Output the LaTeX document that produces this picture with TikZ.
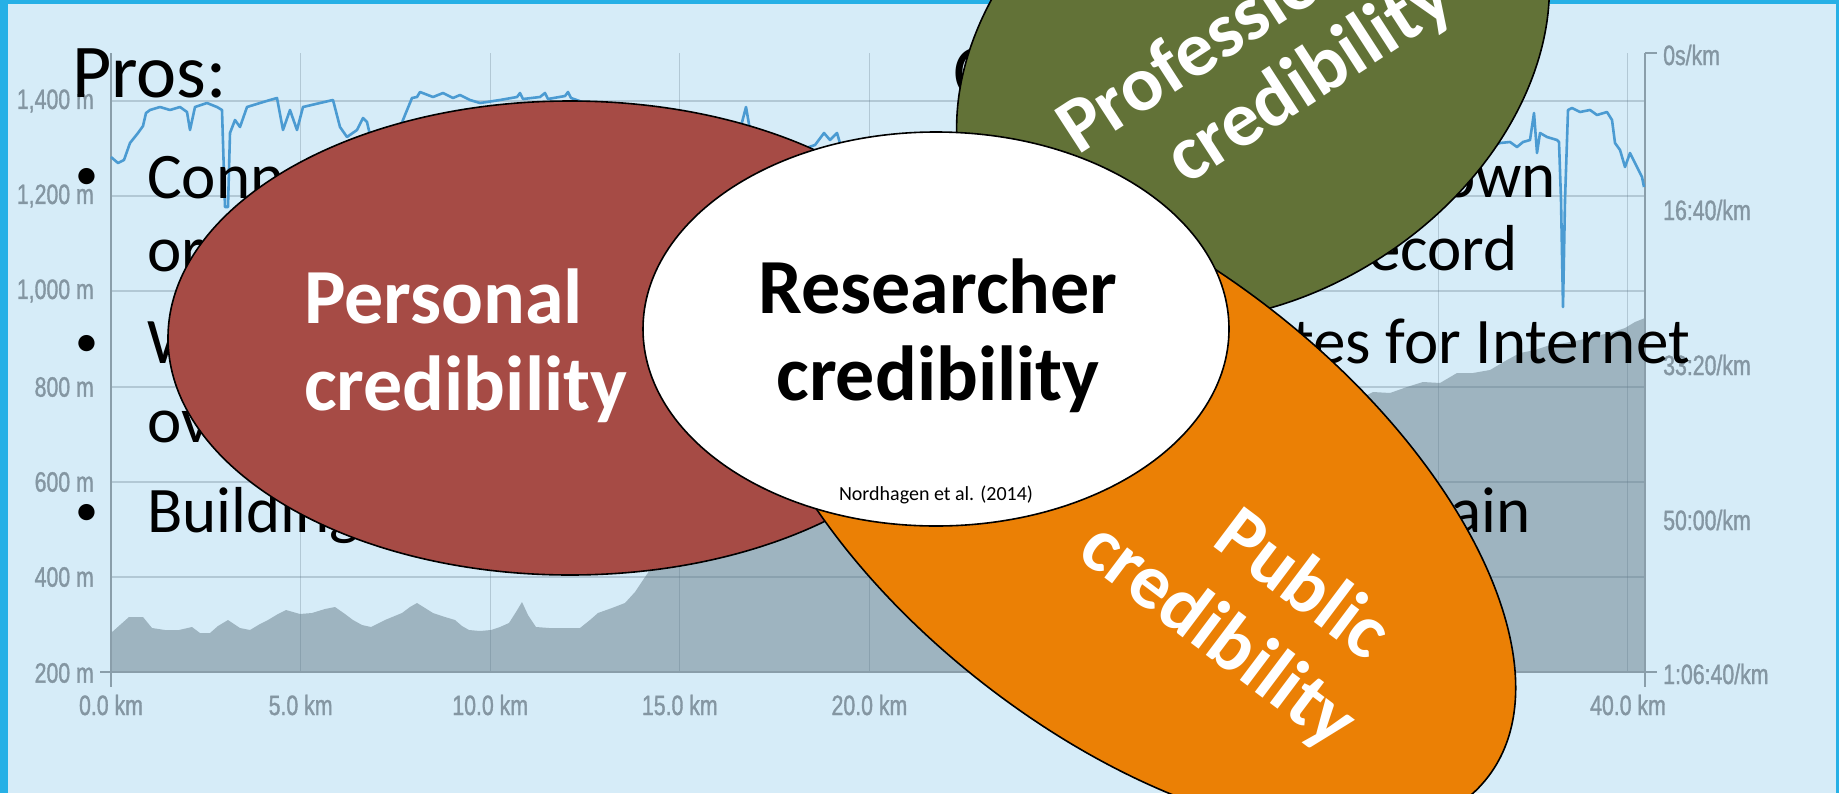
\documentclass[tikz,border=0pt]{standalone}
\usepackage{fontspec}
\setmainfont{Carlito}
\newfontfamily\axisfont[FakeStretch=0.76,FakeBold=1.2]{Liberation Sans}
\definecolor{frameblue}{RGB}{38,176,230}
\definecolor{slidebg}{RGB}{214,236,248}
\definecolor{areafill}{RGB}{158,180,192}
\definecolor{gridc}{RGB}{95,120,135}
\definecolor{axisc}{RGB}{138,158,170}
\definecolor{axistext}{RGB}{132,150,162}
\definecolor{pacec}{RGB}{75,155,210}
\definecolor{redfill}{RGB}{166,75,69}
\definecolor{greenfill}{RGB}{98,114,55}
\definecolor{orangefill}{RGB}{235,128,5}
\begin{document}
\begin{tikzpicture}[x=1pt,y=-1pt,
  gridline/.style={draw=gridc, draw opacity=0.3, line width=1.3pt},
  axisline/.style={draw=axisc, line width=1.6pt},
  axlabel/.style={font=\axisfont\fontsize{28}{28}\selectfont, text=axistext, inner sep=0pt},
  bodytext/.style={font=\fontsize{65}{65}\selectfont, text=black, inner sep=0pt},
  bullettext/.style={font=\fontsize{46}{46}\selectfont, text=black, inner sep=0pt},
  titletext/.style={font=\fontsize{76}{76}\selectfont, text=black, inner sep=0pt},
  blobtext/.style={font=\bfseries\fontsize{78}{78}\selectfont, inner sep=0pt},
  blob/.style={draw=black, line width=1.6pt},
  pace/.style={draw=pacec, line width=2.6pt, line join=round}
]
\useasboundingbox (0,0) rectangle (1839,793);
\clip (0,0) rectangle (1839,793);
% slide frame
\fill[frameblue] (0,0) rectangle (1839,793);
\fill[slidebg] (8,4) rectangle (1836,793);

% elevation area
\fill[areafill] (111,672) -- (111,633) -- (120,625) -- (129,617) -- (143,617) -- (152,628) -- (165,630) -- (179,630) -- (192,627) -- (200,633) -- (210,633) -- (218,626) -- (228,620) -- (240,628) -- (250,630) -- (260,624) -- (268,620) -- (278,614) -- (286,610) -- (300,614) -- (312,613) -- (325,609) -- (335,607) -- (345,614) -- (353,620) -- (362,625) -- (371,627) -- (385,620) -- (402,613) -- (410,607) -- (417,603) -- (425,608) -- (433,613) -- (445,617) -- (455,620) -- (462,626) -- (469,630) -- (480,631) -- (491,630) -- (500,627) -- (509,623) -- (516,612) -- (522,602) -- (528,615) -- (536,627) -- (549,628) -- (565,628) -- (580,628) -- (590,620) -- (598,613) -- (612,608) -- (625,603) -- (635,592) -- (643,580) -- (652,567) -- (665,555) -- (680,545) -- (704,538) -- (750,520) -- (800,505) -- (850,490) -- (900,480) -- (1000,460) -- (1100,440) -- (1200,420) -- (1300,405) -- (1357,400) -- (1373,392) -- (1390,393) -- (1407,387) -- (1423,382) -- (1440,383) -- (1457,373) -- (1473,373) -- (1490,370) -- (1507,360) -- (1520,353) -- (1535,350) -- (1550,345) -- (1565,343) -- (1580,340) -- (1595,336) -- (1610,333) -- (1625,328) -- (1635,322) -- (1645,318) -- (1645,672) -- cycle;

% grid
\foreach \yy in {101,196,291,387,482,577}
  \draw[gridline] (111,\yy) -- (1645,\yy);
\foreach \xx in {300.6,490.2,679.8,869.4,1059,1248.6,1438.2,1627.8}
  \draw[gridline] (\xx,53) -- (\xx,672);
% axes
\draw[axisline] (111,53) -- (111,687);
\draw[axisline] (100,672) -- (1645,672);
\draw[axisline] (1645,53) -- (1645,687);
\draw[axisline] (1645,53) -- (1657,53);
\draw[axisline] (1645,672) -- (1657,672);

% axis labels
\foreach \yy/\lab [count=\i] in {101/{1,400 m},196/{1,200 m},291/{1,000 m},387/{800 m},482/{600 m},577/{400 m},673/{200 m}}
  \node[axlabel, anchor=east] (ylab\i) at (94,\yy) {\lab};
\foreach \xx/\lab [count=\i] in {111/{0.0 km},300.6/{5.0 km},490.2/{10.0 km},679.8/{15.0 km},869.4/{20.0 km},1628/{40.0 km}}
  \node[axlabel] (xlab\i) at (\xx,705) {\lab};
\foreach \yy/\lab [count=\i] in {55/{0s/km},210/{16:40/km},365/{33:20/km},520/{50:00/km},674/{1:06:40/km}}
  \node[axlabel, anchor=west] (plab\i) at (1663,\yy) {\lab};

% pace line
\draw[pace] plot coordinates {(111,157) (118,163) (124,160) (130,143) (138,133) (143,126) (146,113) (150,110) (160,107) (170,110) (180,107) (187,112) (190,130) (195,107) (207,103) (217,107) (222,110) (225,207) (228,207) (230,133) (235,120) (240,127) (247,107) (260,103) (270,100) (277,98) (283,130) (290,110) (297,130) (303,107) (320,103) (333,100) (340,127) (347,137) (357,130) (363,118) (367,122) (370,135) (380,145) (395,140) (405,115) (412,98) (417,97) (420,92) (433,97) (443,93) (453,98) (460,95) (470,100) (480,103) (487,102) (500,100) (517,97) (520,93) (523,99) (540,97) (545,93) (548,99) (565,96) (568,92) (571,98) (585,103) (600,120) (620,135) (640,140) (660,130) (680,140) (700,145) (720,140) (740,130) (746,107) (750,130) (770,145) (800,150) (815,145) (824,133) (830,140) (837,133) (842,150) (870,160) (900,165) (940,160) (980,150) (1020,145) (1100,145) (1200,140) (1300,142) (1400,145) (1450,146) (1490,147) (1500,143) (1510,142) (1517,147) (1523,142) (1530,140) (1534,113) (1537,153) (1540,133) (1547,137) (1557,140) (1559,142) (1561,200) (1563,307) (1565,200) (1568,110) (1572,108) (1580,112) (1590,110) (1597,115) (1607,112) (1612,120) (1615,143) (1620,150) (1625,167) (1630,153) (1637,167) (1642,177) (1644,187)};

% slide text
\node[titletext, anchor=base west] (pros) at (72,97) {Pros:};
\node[titletext, anchor=base west] (cons) at (953,97) {C};
\node[bullettext, anchor=base] (bul1) at (87,189) {•};
\node[bodytext, anchor=base west] (p1a) at (147,198) {Conn};
\node[bodytext, anchor=base west] (p1b) at (147,271) {or};
\node[bullettext, anchor=base] (bul2) at (87,356) {•};
\node[bodytext, anchor=base west] (p2a) at (147,363) {W};
\node[bodytext, anchor=base west] (p2b) at (147,442) {ov};
\node[bullettext, anchor=base] (bul3) at (87,525) {•};
\node[bodytext, anchor=base west] (p3a) at (147,532) {Building};
\node[bodytext, anchor=base east] (c1a) at (1556,197) {own};
\node[bodytext, anchor=base east] (c1b) at (1518,270) {ecord};
\node[bodytext, anchor=base east] (c2a) at (1690,363) {tes for Internet};
\node[bodytext, anchor=base east] (c3a) at (1531,532) {ain};

% professional credibility
\filldraw[blob, fill=greenfill, rotate around={33:(1253,58)}] (1253,58) ellipse [x radius=318, y radius=237];
\node[blobtext, text=white, rotate=33, anchor=base west] (prof1) at (1078,156) {Professional};
\node[blobtext, text=white, rotate=33, anchor=base west] (prof2) at (1186,186) {credibility};

% personal credibility
\filldraw[blob, fill=redfill] (570,338) ellipse [x radius=402, y radius=237];
\node[blobtext, text=white, anchor=base west] (pers1) at (304,323) {Personal};
\node[blobtext, text=white, anchor=base west] (pers2) at (304,410) {credibility};

% public credibility
\filldraw[blob, fill=orangefill, rotate around={-38:(1128,497)}] (1128,497) ellipse [x radius=456, y radius=236];
\node[blobtext, text=white, rotate=-37, anchor=base west] (pub1) at (1210,544) {Public};
\node[blobtext, text=white, rotate=-37, anchor=base west] (pub2) at (1075,556) {credibility};

% researcher credibility
\filldraw[blob, fill=white] (936,329) ellipse [x radius=293, y radius=197];
\node[blobtext, text=black, anchor=base] (res1) at (938,313) {Researcher};
\node[blobtext, text=black, anchor=base] (res2) at (938,400) {credibility};
\node[font=\fontsize{20}{20}\selectfont, inner sep=0pt, anchor=base] (cite) at (936,500) {Nordhagen et al. (2014)};
\end{tikzpicture}
\end{document}
